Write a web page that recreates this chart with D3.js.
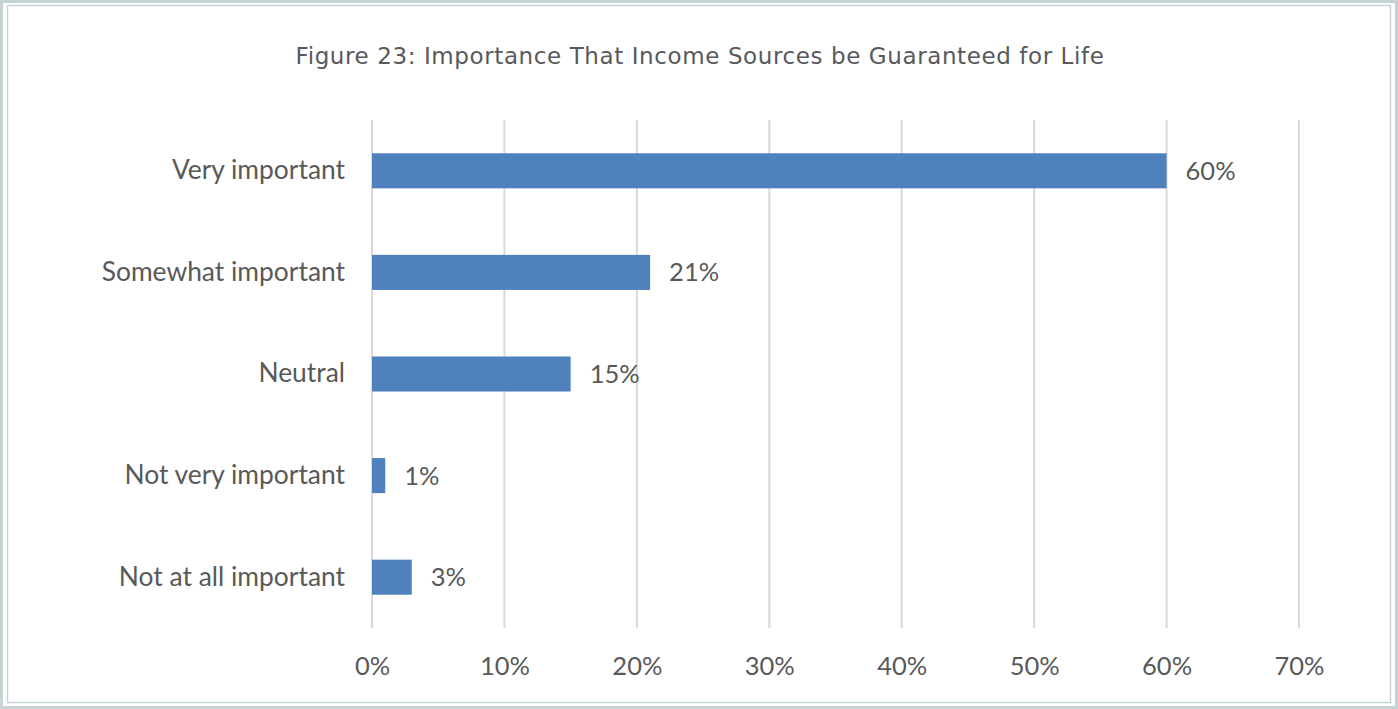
<!DOCTYPE html>
<html>
<head>
<meta charset="utf-8">
<script src="https://cdn.jsdelivr.net/npm/d3@7"></script>
<style>
  html, body { margin: 0; padding: 0; background: #fff; }
  svg { display: block; }
</style>
</head>
<body>
<svg id="chart" width="1398" height="709"></svg>
<script>
// Survey responses (share of respondents, %)
const categories = [
  "Very important",
  "Somewhat important",
  "Neutral",
  "Not very important",
  "Not at all important"
];
const values = [60, 21, 15, 1, 3];
const tickValues = [0, 10, 20, 30, 40, 50, 60, 70];
const title = "Figure 23: Importance That Income Sources be Guaranteed for Life";

const W = 1398, H = 709;
const svg = d3.select("#chart");

// Double frame around the figure
svg.append("rect")
  .attr("x", 1.5).attr("y", 1.5)
  .attr("width", W - 3).attr("height", H - 3)
  .attr("fill", "none").attr("stroke", "#c6d3d5").attr("stroke-width", 3);
svg.append("rect")
  .attr("x", 7.5).attr("y", 5.5)
  .attr("width", W - 15).attr("height", H - 12)
  .attr("fill", "none").attr("stroke", "#c6d3d5").attr("stroke-width", 1.5);

// Title
svg.append("text")
  .attr("x", 700).attr("y", 64)
  .attr("text-anchor", "middle")
  .attr("font-family", "'DejaVu Sans', sans-serif")
  .attr("font-size", 23)
  .attr("letter-spacing", 0.6)
  .attr("fill", "#58595b")
  .text(title);

const plot = { left: 372, right: 1299, top: 120, bottom: 628 };

const x = d3.scaleLinear().domain([0, 70]).range([plot.left, plot.right]);
const y = d3.scaleBand()
  .domain(categories)
  .range([plot.top, plot.bottom])
  .paddingInner(0.655)
  .paddingOuter(0.3275);

const font = "Lato, 'Open Sans', sans-serif";
const textColor = "#595959";

// Vertical gridlines
svg.append("g")
  .selectAll("line")
  .data(tickValues)
  .join("line")
  .attr("x1", d => x(d)).attr("x2", d => x(d))
  .attr("y1", plot.top).attr("y2", plot.bottom)
  .attr("stroke", "#d9d9d9").attr("stroke-width", 2);

// Bars
svg.append("g")
  .selectAll("rect")
  .data(categories)
  .join("rect")
  .attr("x", x(0))
  .attr("y", d => y(d))
  .attr("width", (d, i) => x(values[i]) - x(0))
  .attr("height", y.bandwidth())
  .attr("fill", "#4f81bd");

// Value labels
svg.append("g")
  .selectAll("text")
  .data(categories)
  .join("text")
  .attr("x", (d, i) => x(values[i]) + 19)
  .attr("y", d => y(d) + y.bandwidth() / 2)
  .attr("dy", "0.35em")
  .attr("font-family", font)
  .attr("font-size", 25.5)
  .attr("fill", textColor)
  .text((d, i) => values[i] + "%");

// Category axis (labels only)
const yAxis = d3.axisLeft(y).tickSize(0).tickPadding(27);
const gy = svg.append("g")
  .attr("transform", `translate(${plot.left},0)`)
  .call(yAxis);
gy.select(".domain").remove();
gy.selectAll("text")
  .attr("font-family", font)
  .attr("font-size", 26.4)
  .attr("fill", textColor);

// Value axis (labels only)
const xAxis = d3.axisBottom(x)
  .tickValues(tickValues)
  .tickFormat(d => d + "%")
  .tickSize(0)
  .tickPadding(0);
const gx = svg.append("g")
  .attr("transform", `translate(0,${plot.bottom + 29})`)
  .call(xAxis);
gx.select(".domain").remove();
gx.selectAll("text")
  .attr("font-family", font)
  .attr("font-size", 25.5)
  .attr("fill", textColor);
</script>
</body>
</html>
